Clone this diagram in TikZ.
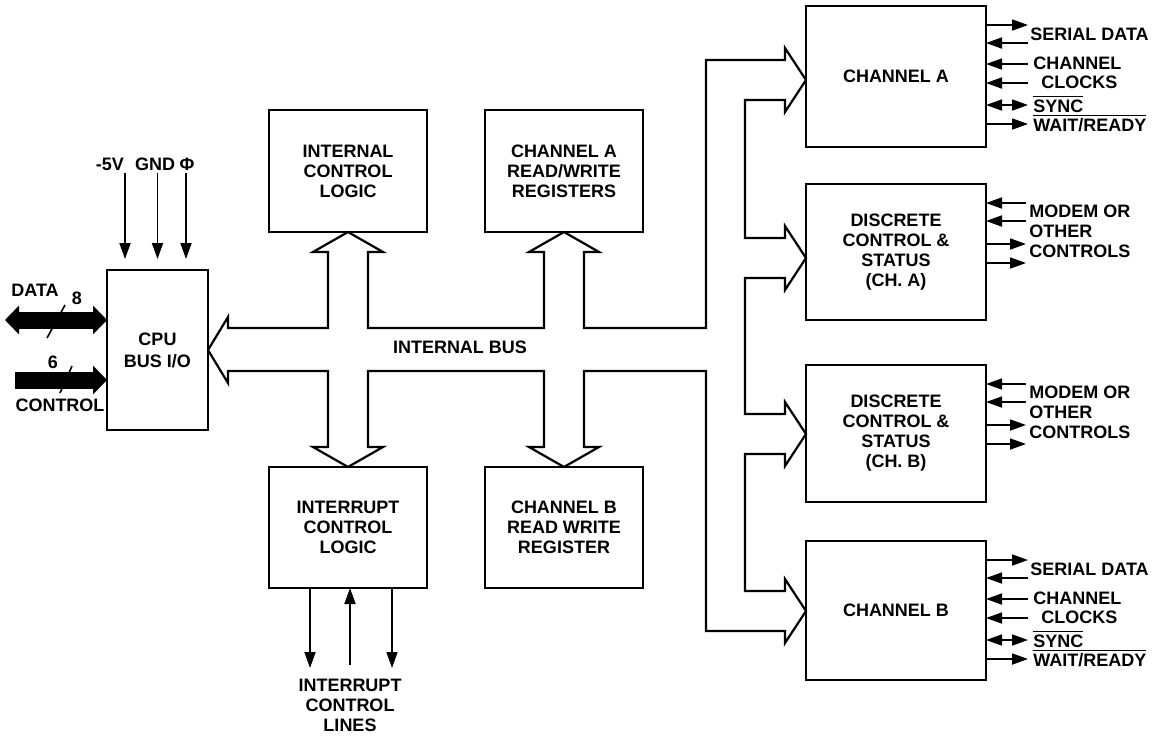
\documentclass[tikz,border=0pt]{standalone}
\usepackage{fontspec}
\setmainfont{Liberation Sans}
\usetikzlibrary{arrows.meta,positioning,calc}
\newcommand{\ovl}[1]{$\overline{\mbox{#1}}$}

\begin{document}
\begin{tikzpicture}[x=0.5pt,y=-0.5pt,font=\fontsize{9}{10}\selectfont\bfseries,
  box/.style={draw,line width=1.2pt,align=center,inner sep=0pt,outer sep=0pt,minimum width=79pt,minimum height=61pt},
  chbox/.style={box,minimum width=90pt,minimum height=70.5pt}, dcbox/.style={box,minimum width=90pt,minimum height=68pt},
  bus/.style={line width=1.1pt,line join=miter},
  sig/.style={line width=0.9pt,-{Triangle[length=8pt,width=5.5pt]}},
  sigin/.style={line width=0.9pt,{Triangle[length=8pt,width=5.5pt]}-},
  sigboth/.style={line width=0.9pt,{Triangle[length=8pt,width=5.5pt]}-{Triangle[length=8pt,width=5.5pt]}},
  fat/.style={line width=8.5pt,-{Triangle[length=7pt,width=14pt]}},
  lbl/.style={inner sep=0pt,align=left}]
 \useasboundingbox (0,0) rectangle (1169,736);
 \node[box,minimum width=50.5pt,minimum height=80pt,anchor=north west] (cpu) at (107,270) {CPU\\[1pt]BUS I/O};
 \node[box,anchor=north west] (icl) at (269,110) {INTERNAL\\CONTROL\\LOGIC};
 \node[box,right=29pt of icl] (chArw) {CHANNEL A\\READ/WRITE\\REGISTERS};
 \node[box,minimum height=60.5pt,anchor=north west] (intr) at (269,467) {INTERRUPT\\CONTROL\\LOGIC};
 \node[box,minimum height=60.5pt,right=29pt of intr] (chBrw) {CHANNEL B\\READ WRITE\\REGISTER};
 \node[chbox,anchor=north west] (chA) at (806,6) {CHANNEL A};
 \node[dcbox,below=18.5pt of chA] (dcsA) {DISCRETE\\CONTROL \&\\STATUS\\(CH. A)};
 \node[dcbox,minimum height=68.5pt,below=22.5pt of dcsA] (dcsB) {DISCRETE\\CONTROL \&\\STATUS\\(CH. B)};
 \node[chbox,minimum height=69.5pt,below=19.5pt of dcsB] (chB) {CHANNEL B};
 \node (ibus) at (460,347) {INTERNAL BUS};
 % internal bus, drawn hollow
 \draw[bus] (cpu.east) -- (228,317) -- (228,328) -- (328,328) -- (328,252) -- (313,252) -- (icl.south) -- (383,252) -- (368,252)
   -- (368,328) -- (544,328) -- (544,252) -- (529,252) -- (chArw.south) -- (599,252) -- (584,252) -- (584,328) -- (706,328)
   -- (706,60) -- (785,60) -- (785,48) -- (806,80) -- (785,112) -- (785,100) -- (745,100)
   -- (745,238) -- (785,238) -- (785,226) -- (806,258) -- (785,290) -- (785,278) -- (745,278)
   -- (745,414) -- (785,414) -- (785,402) -- (806,434) -- (785,466) -- (785,454) -- (745,454)
   -- (745,591) -- (785,591) -- (785,579) -- (806,611) -- (785,643) -- (785,631) -- (706,631)
   -- (706,371) -- (584,371) -- (584,447) -- (599,447) -- (chBrw.north) -- (529,447) -- (544,447) -- (544,371)
   -- (368,371) -- (368,447) -- (383,447) -- (intr.north) -- (313,447) -- (328,447) -- (328,371) -- (228,371) -- (228,383) -- cycle;
 % CPU side
 \node (l5v) at (110,164) {-5V}; \node (lgnd) at (155,164) {GND}; \node (lphi) at (187,164) {Φ};
 \draw[sig] (cpu.north) ++(-32.5,-97) -- ++(0,86); \draw[sig] (cpu.north) ++(0,-97) -- ++(0,86); \draw[sig] (cpu.north) ++(28.5,-97) -- ++(0,86);
 \coordinate (dataL) at (5,320); \coordinate (ctlL) at (15,380);
 \draw[fat,{Triangle[length=7pt,width=14pt]}-{Triangle[length=7pt,width=14pt]}] (dataL) -- (dataL -| cpu.west);
 \draw[fat] (ctlL) -- (ctlL -| cpu.west);
 \draw[line width=0.8pt] ($(dataL)+(42,18)$) -- ++(18,-33); \draw[line width=0.8pt] ($(ctlL)+(45,13)$) -- ++(12,-27);
 \node (ldata) at (35,290) {DATA}; \node (l8) at (77,298) {8}; \node (l6) at (53,362) {6}; \node (lctl) at (60,405) {CONTROL};
 % interrupt lines
 \draw[sig] (intr.south) ++(-38,0) -- ++(0,80); \draw[sigin] (intr.south) ++(2,0) -- ++(0,77); \draw[sig] (intr.south) ++(44,0) -- ++(0,80);
 \node[align=center] (ilines) at (350,705) {INTERRUPT\\CONTROL\\LINES};
 % serial channels
 \foreach \c in {chA,chB}{
  \draw[sig] (\c.north east) ++(0,19) -- ++(42,0); \draw[sigin] (\c.north east) ++(0,37) -- ++(42,0);
  \draw[sigin] (\c.north east) ++(0,58) -- ++(42,0); \draw[sigin] (\c.north east) ++(0,77) -- ++(42,0);
  \draw[sigboth] (\c.north east) ++(0,99) -- ++(42,0); \draw[sig] (\c.north east) ++(0,118) -- ++(42,0);
  \node[lbl,anchor=west] (\c-ser) at ([shift={(44,28)}]\c.north east) {SERIAL DATA};
  \node[lbl,anchor=west] (\c-chn) at ([shift={(47,57)}]\c.north east) {CHANNEL};
  \node[lbl,anchor=west] (\c-clk) at ([shift={(55,76)}]\c.north east) {CLOCKS};
  \node[lbl,anchor=west] (\c-syn) at ([shift={(47,98)}]\c.north east) {\ovl{SYNC}};
  \node[lbl,anchor=west] (\c-wt) at ([shift={(47,117)}]\c.north east) {\ovl{WAIT/READY}};
 }
 \foreach \d in {dcsA,dcsB}{
  \draw[sigin] (\d.north east) ++(0,19) -- ++(40,0); \draw[sigin] (\d.north east) ++(0,37) -- ++(40,0);
  \draw[sig] (\d.north east) ++(0,60) -- ++(40,0); \draw[sig] (\d.north east) ++(0,79) -- ++(40,0);
  \node[lbl,anchor=west] (\d-mod) at ([shift={(43,47)}]\d.north east) {MODEM OR\\OTHER\\CONTROLS};
 }
\end{tikzpicture}
\end{document}
